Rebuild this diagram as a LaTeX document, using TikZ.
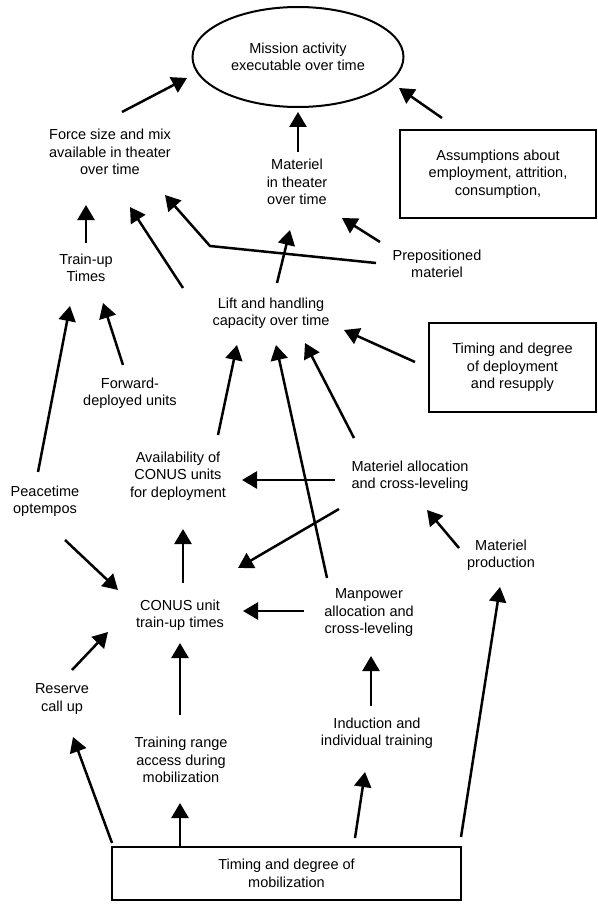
\documentclass[tikz,border=0pt]{standalone}
\usepackage{fontspec}
\setmainfont{Liberation Sans}
\usetikzlibrary{arrows.meta,shapes.geometric}
\tikzset{
  lbl/.style={align=center,inner sep=0pt,font=\fontsize{14.5}{17.5}\selectfont},
  boxed/.style={lbl,draw,line width=1.8pt},
  arr/.style={line width=2.5pt,-{Triangle[length=15pt,width=17pt]}},
  plain/.style={line width=2.5pt}
}
\begin{document}
\begin{tikzpicture}[x=1pt,y=-1pt]
\useasboundingbox (0,0) rectangle (597,904);
% nodes
\node[lbl,draw,ellipse,line width=2pt,minimum width=211pt,minimum height=100pt] (mission) at (298,57) {Mission activity\\executable over time};
\node[lbl] (force) at (110,152) {Force size and mix\\available in theater\\over time};
\node[lbl] (materiel) at (297,182) {Materiel\\in theater\\over time};
\node[boxed,minimum width=196pt,minimum height=88pt] (assump) at (498,174) {Assumptions about\\employment, attrition,\\consumption,};
\node[lbl] (trainup) at (86,268) {Train-up\\Times};
\node[lbl] (prepos) at (437,264) {Prepositioned\\materiel};
\node[lbl] (lift) at (271,313) {Lift and handling\\capacity over time};
\node[boxed,minimum width=167pt,minimum height=89pt] (deploy) at (512.5,367.5) {Timing and degree\\of deployment\\and resupply};
\node[lbl] (forward) at (130,393) {Forward-\\deployed units};
\node[lbl] (avail) at (178,476) {Availability of\\CONUS units\\for deployment};
\node[lbl] (matalloc) at (410,476) {Materiel allocation\\and cross-leveling};
\node[lbl] (peace) at (45,501) {Peacetime\\optempos};
\node[lbl] (matprod) at (501,555) {Materiel\\production};
\node[lbl] (conus) at (180,615) {CONUS unit\\train-up times};
\node[lbl] (manpower) at (369,613) {Manpower\\allocation and\\cross-leveling};
\node[lbl] (reserve) at (62,699) {Reserve\\call up};
\node[lbl] (training) at (181,760) {Training range\\access during\\mobilization};
\node[lbl] (induction) at (377,733) {Induction and\\individual training};
\node[boxed,minimum width=349pt,minimum height=53pt] (mobil) at (286.5,873.5) {Timing and degree of\\mobilization};
\coordinate (bend) at (210,246);
% connectors
\draw[arr] ([shift={(12,-40)}]force.center) -- ([shift={(-111,21)}]mission.center);
\draw[arr] ([shift={(1,-30)}]materiel.center) -- ([shift={(0,55)}]mission.center);
\draw[arr] ([shift={(-56,-56)}]assump.center) -- ([shift={(101,31)}]mission.center);
\draw[arr] ([shift={(0,-25)}]trainup.center) -- ([shift={(-24,53)}]force.center);
\draw[arr] ([shift={(-61,-1)}]prepos.center) -- (bend) -- ([shift={(55,43)}]force.center);
\draw[arr] ([shift={(-57,-22)}]prepos.center) -- ([shift={(45,36)}]materiel.center);
\draw[arr] ([shift={(-88,-25)}]lift.center) -- ([shift={(20,55)}]force.center);
\draw[arr] ([shift={(6,-30)}]lift.center) -- ([shift={(-7,48)}]materiel.center);
\draw[arr] ([shift={(-97.5,-5.5)}]deploy.center) -- ([shift={(73,17)}]lift.center);
\draw[arr] ([shift={(-56,-38)}]matalloc.center) -- ([shift={(34,30)}]lift.center);
\draw[arr] ([shift={(-42,-35)}]manpower.center) -- ([shift={(5,32)}]lift.center);
\draw[arr] ([shift={(40,-41)}]avail.center) -- ([shift={(-34,32)}]lift.center);
\draw[arr] ([shift={(-75,4)}]matalloc.center) -- ([shift={(64,4)}]avail.center);
\draw[arr] ([shift={(-71,33)}]matalloc.center) -- ([shift={(58,-47)}]conus.center);
\draw[arr] ([shift={(-42,-7)}]matprod.center) -- ([shift={(17,34)}]matalloc.center);
\draw[arr] ([shift={(-7,-28)}]forward.center) -- ([shift={(17,35)}]trainup.center);
\draw[arr] ([shift={(-7,-29)}]peace.center) -- ([shift={(-16,38)}]trainup.center);
\draw[arr] ([shift={(20,39)}]peace.center) -- ([shift={(-62,-25)}]conus.center);
\draw[arr] ([shift={(3,-32)}]conus.center) -- ([shift={(5,53)}]avail.center);
\draw[arr] ([shift={(-65,-2)}]manpower.center) -- ([shift={(63,-4)}]conus.center);
\draw[arr] ([shift={(10,-29)}]reserve.center) -- ([shift={(-72,17)}]conus.center);
\draw[arr] ([shift={(-1,-45)}]training.center) -- ([shift={(0,28)}]conus.center);
\draw[arr] ([shift={(-106.5,-27.5)}]mobil.center) -- ([shift={(-1,43)}]training.center);
\draw[arr] ([shift={(-174.5,-30.5)}]mobil.center) -- ([shift={(11,38)}]reserve.center);
\draw[arr] ([shift={(68.5,-35.5)}]mobil.center) -- ([shift={(-12,39)}]induction.center);
\draw[arr] ([shift={(174.5,-36.5)}]mobil.center) -- ([shift={(-1,32)}]matprod.center);
\draw[arr] ([shift={(-6,-27)}]induction.center) -- ([shift={(2,43)}]manpower.center);
\end{tikzpicture}
\end{document}
